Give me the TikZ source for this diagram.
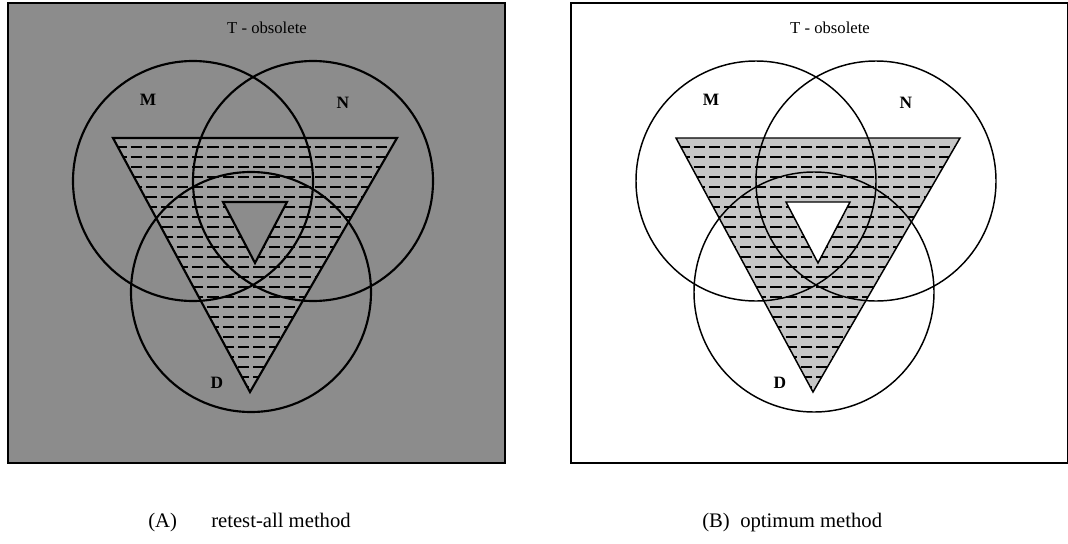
\documentclass[tikz,border=0pt]{standalone}
\usepackage{fontspec}
\setmainfont{Liberation Serif}
% #1 x shift, #2 name prefix, #3 background fill, #4 triangle fill, #5 line width
\newcommand\vennpanel[5]{%
\begin{scope}[shift={(#1,0)}]
  \fill[#3] (8,3) rectangle (505,463);
  \fill[#4, even odd rule] (113,138) -- (397,138) -- (250,392) -- cycle
                          (223,202) -- (287,202) -- (255,263) -- cycle;
  \begin{scope}[even odd rule]
    \clip (113,138) -- (397,138) -- (250,392) -- cycle
          (223,202) -- (287,202) -- (255,263) -- cycle;
    \foreach \yy in {147,157,...,392} \draw[hatch] (100,\yy) -- (410,\yy);
  \end{scope}
  \draw[frame] (8,3) rectangle (505,463);
  \draw[line width=#5, line join=miter] (113,138) -- (397,138) -- (250,392) -- cycle;
  \draw[line width=#5, line join=miter] (223,202) -- (287,202) -- (255,263) -- cycle;
  \draw[line width=#5] (193,181) circle[radius=120];
  \draw[line width=#5] (313,181) circle[radius=120];
  \draw[line width=#5] (251,292) circle[radius=120];
  \node[ttl] (#2title) at (267,28) {T - obsolete};
  \node[lbl] (#2M) at (148,100) {M};
  \node[lbl] (#2N) at (343,103) {N};
  \node[lbl] (#2D) at (217,383) {D};
\end{scope}}
\begin{document}
\begin{tikzpicture}[x=0.75pt,y=-0.75pt,
  frame/.style={line width=1.5pt},
  hatch/.style={line width=1.4pt, dash pattern=on 8.5pt off 3pt},
  lbl/.style={font=\bfseries\fontsize{13}{15}\selectfont, inner sep=0pt},
  ttl/.style={font=\fontsize{12.5}{15}\selectfont, inner sep=0pt},
  captext/.style={font=\fontsize{15.5}{18}\selectfont, inner sep=0pt, anchor=base west}]
\useasboundingbox (0,0) rectangle (1068,543);
\fill[white] (0,0) rectangle (1068,543);
\vennpanel{0}{a}{black!45}{black!38}{1.6pt}
\vennpanel{563}{b}{white}{gray!45}{1.1pt}
\node[captext] (capA) at (148,527) {(A)};
\node[captext] (capAt) at (211,527) {retest-all method};
\node[captext] (capB) at (702,527) {(B)};
\node[captext] (capBt) at (740,527) {optimum method};
\end{tikzpicture}
\end{document}
